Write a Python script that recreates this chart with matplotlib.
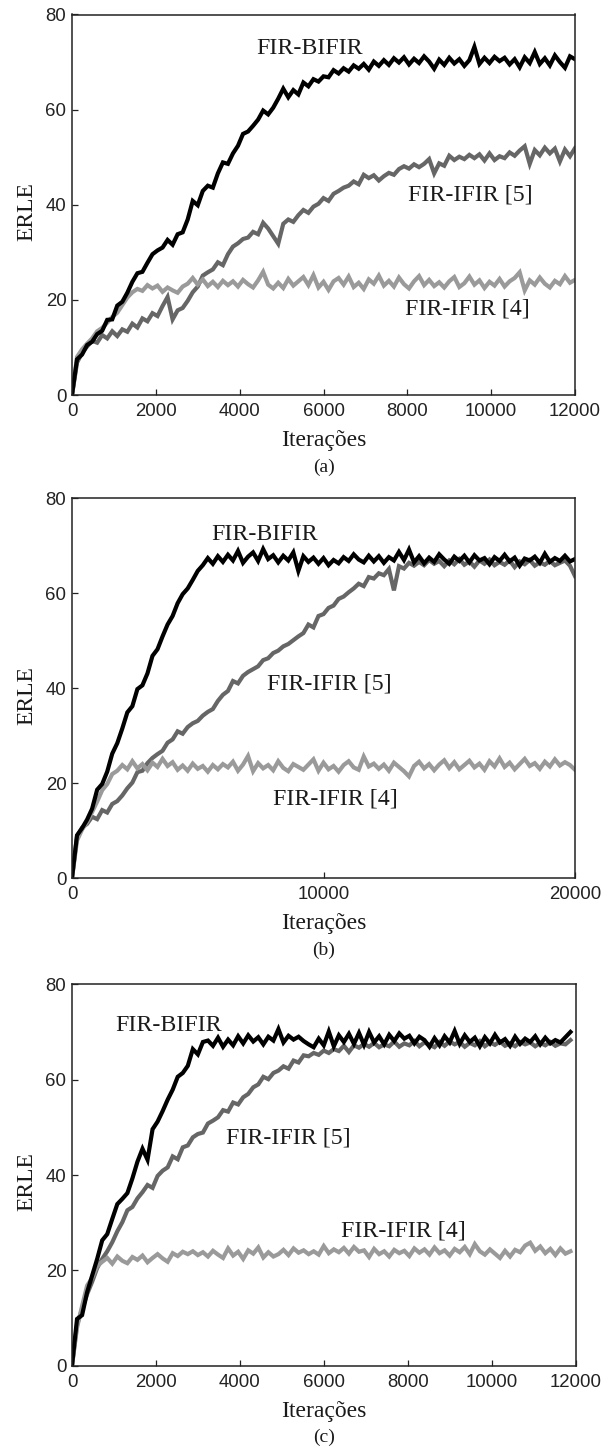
import numpy as np
import matplotlib
matplotlib.use("Agg")
import matplotlib.pyplot as plt

SERIF = "Liberation Serif"
SANS = "Liberation Sans"

BLACK = "#000000"
DARK = "#666666"
LIGHT = "#9a9a9a"

# ---- panel (a): iterations 0..12000, step 120 ----
x_a = np.arange(0, 12001, 120)
bifir_a = [
    0, 7.5, 8.5, 10.5, 11.2, 12.8, 13.5, 15.8, 15.9, 18.8,
    19.6, 21.5, 23.8, 25.6, 25.9, 27.8, 29.6, 30.4, 31.0, 32.6,
    31.6, 33.8, 34.2, 36.9, 40.8, 39.9, 42.9, 44.0, 43.6, 46.6,
    48.9, 48.6, 50.8, 52.4, 54.9, 55.4, 56.6, 57.9, 59.8, 59.0,
    60.4, 62.3, 64.4, 62.6, 64.1, 63.2, 65.7, 64.9, 66.4, 65.9,
    67.0, 66.8, 68.3, 67.6, 68.7, 68.0, 69.3, 68.6, 69.6, 68.4,
    70.1, 69.2, 70.4, 69.4, 70.8, 69.9, 71.0, 69.5, 70.7, 69.8,
    71.2, 70.1, 68.6, 70.5, 69.4, 70.9, 69.7, 70.6, 69.2, 70.4,
    73.2, 69.6, 70.9, 69.8, 71.1, 70.2, 70.9, 69.5, 70.6, 68.9,
    71.0, 69.8, 72.1, 69.6, 70.8, 69.3, 71.4, 70.0, 68.8, 71.2,
    70.6,
]
ifir5_a = [
    0, 6.8, 8.9, 10.2, 11.4, 11.0, 12.6, 11.9, 13.4, 12.4,
    13.8, 13.3, 15.0, 14.2, 16.1, 15.5, 17.2, 16.6, 18.7, 20.6,
    15.9, 17.8, 18.3, 19.8, 21.6, 22.8, 25.1, 25.8, 26.4, 27.9,
    27.3, 29.6, 31.2, 31.9, 32.8, 33.1, 34.3, 33.8, 36.2, 35.0,
    33.4, 31.8, 36.0, 36.9, 36.4, 37.8, 38.9, 38.3, 39.6, 40.2,
    41.4, 40.8, 42.3, 42.9, 43.6, 44.0, 44.9, 44.3, 46.3, 45.6,
    46.2, 45.1, 46.0, 46.7, 46.3, 47.5, 48.1, 47.6, 48.5, 47.9,
    48.6, 49.6, 46.6, 48.7, 48.2, 50.3, 49.4, 50.1, 49.6, 50.5,
    49.8, 50.6, 49.3, 50.8, 49.4, 50.2, 49.8, 51.0, 50.3, 51.4,
    52.3, 48.6, 51.5, 50.4, 52.0, 50.8, 51.8, 49.1, 51.6, 50.2,
    51.9,
]
ifir4_a = [
    0, 8.0, 9.6, 10.8, 11.9, 13.4, 14.1, 15.2, 16.4, 17.3,
    18.9, 20.5, 21.6, 22.3, 21.9, 23.1, 22.4, 23.0, 21.7, 22.6,
    22.0, 21.5, 22.8, 23.4, 24.6, 23.2, 24.3, 22.9, 23.8, 22.7,
    24.0, 23.1, 23.9, 22.8, 24.2, 23.3, 22.6, 24.1, 25.9, 23.2,
    22.4, 23.6, 22.5, 24.4, 23.0, 23.9, 24.8, 23.1, 25.2, 22.6,
    23.8, 22.1, 23.9, 24.6, 23.2, 24.9, 22.7, 23.6, 22.3, 24.3,
    23.4, 25.1, 23.0, 24.0, 22.8, 24.7, 23.3, 22.4, 23.9, 25.0,
    23.1, 24.2, 22.9, 23.7, 22.6, 23.9, 24.8, 22.7, 23.5, 24.9,
    23.2, 24.1, 22.5, 23.8, 23.0, 24.4, 22.8, 23.9, 24.6, 25.8,
    22.0, 24.1, 23.2, 24.7, 23.4, 22.6, 24.0, 23.3, 25.0, 23.6,
    24.2,
]

# ---- panel (b): iterations 0..20000, step 200 ----
x_b = np.arange(0, 20001, 200)
bifir_b = [
    0, 9.0, 10.5, 12.3, 14.6, 18.6, 19.8, 22.4, 26.2, 28.4,
    31.5, 34.9, 36.2, 39.8, 40.6, 43.1, 46.8, 48.2, 50.9, 53.4,
    55.2, 57.9, 59.8, 61.0, 62.8, 64.7, 65.9, 67.4, 66.2, 67.8,
    66.6, 68.1, 66.9, 68.9, 66.4, 67.7, 68.6, 66.8, 69.3, 67.2,
    68.0, 66.5, 67.9, 66.9, 68.6, 64.7, 67.8, 66.6, 67.5, 66.2,
    67.4, 65.9, 67.0, 66.3, 67.6, 66.8, 68.2, 67.1, 66.5, 67.9,
    66.7, 67.8, 66.4, 67.6, 66.9, 68.7, 67.0, 69.2, 66.5, 67.8,
    66.3, 67.5, 66.6, 68.2, 67.1, 66.2, 67.7, 66.8, 67.9, 66.5,
    68.0, 66.9, 67.4, 66.1, 67.6, 66.8, 68.1, 66.7, 67.5, 65.8,
    67.3, 66.9, 67.7, 66.4, 68.3, 66.6, 67.4, 66.8, 67.9, 66.7,
    67.2,
]
ifir5_b = [
    0, 8.8, 10.6, 11.4, 12.9, 12.4, 14.3, 13.8, 15.6, 16.2,
    17.4, 18.9, 20.1, 22.3, 22.6, 24.2, 25.3, 26.1, 26.8, 28.5,
    29.2, 30.9, 30.4, 31.8, 32.6, 33.1, 34.2, 35.0, 35.6, 37.3,
    38.6, 39.4, 41.5, 41.0, 42.6, 43.4, 44.0, 44.6, 45.9, 46.3,
    47.4, 47.9, 48.8, 49.3, 50.1, 50.9, 51.6, 53.4, 52.8, 55.2,
    55.6, 56.9, 57.4, 58.8, 59.3, 60.2, 61.0, 62.0, 61.5, 63.4,
    63.1, 64.2, 63.8, 65.1, 60.6, 65.7, 65.2, 66.4, 65.8, 66.6,
    65.9, 67.0, 66.2, 66.8, 65.7, 66.9, 66.1, 67.2, 66.0, 66.7,
    65.6, 66.9, 66.2, 67.1, 65.9, 66.6, 66.0, 66.9, 65.5, 66.7,
    66.1, 67.0, 65.8, 66.5, 66.0, 66.8, 65.9, 66.4, 66.9, 65.8,
    63.6,
]
ifir4_b = [
    0, 7.9, 10.2, 11.8, 13.9, 16.1, 18.5, 19.8, 21.9, 22.6,
    23.8, 22.9, 24.6, 23.1, 24.0, 22.7, 24.3, 23.4, 25.1, 23.6,
    24.4, 22.8, 23.7, 22.6, 24.1, 23.0, 23.6, 22.4, 23.8, 22.9,
    24.0, 23.3, 24.5, 22.6, 23.9, 25.7, 22.5, 24.2, 23.1, 23.8,
    22.7, 24.6, 23.2, 22.5, 24.0, 23.4, 22.8, 23.9, 25.0, 22.6,
    24.3, 22.9, 23.6, 22.4, 23.8, 24.6, 23.3, 22.8, 25.6, 23.5,
    24.1, 23.0, 23.9, 22.6, 24.3, 23.4, 22.5, 21.4, 23.6, 24.5,
    23.1, 24.0, 22.7, 23.9, 24.8, 23.2, 24.4, 22.9, 23.8, 24.7,
    23.3, 24.1, 22.8, 24.6, 23.5, 25.2, 23.4, 24.3, 22.9, 24.0,
    25.1, 23.6, 24.2, 23.0, 24.5, 23.5, 25.0, 23.7, 24.4, 23.8,
    22.8,
]

# ---- panel (c): iterations 0..11880, step 120 ----
x_c = np.arange(0, 11881, 120)
bifir_c = [
    0, 9.8, 10.6, 15.4, 18.9, 22.4, 26.3, 27.6, 30.8, 33.9,
    35.0, 36.2, 39.3, 42.8, 45.5, 43.2, 49.6, 51.2, 53.4, 55.8,
    57.9, 60.6, 61.4, 62.9, 66.4, 65.3, 67.9, 68.2, 67.1, 68.8,
    66.9, 68.4, 67.2, 69.1, 67.6, 69.3, 68.0, 68.9, 67.4, 69.0,
    68.2, 70.6, 67.8, 69.2, 68.4, 69.0, 68.1, 67.4, 66.8, 68.6,
    67.2, 70.1, 67.0, 69.3, 67.9, 69.6, 67.5, 69.8, 67.3, 70.0,
    67.8, 69.1, 67.4, 69.4, 68.1, 69.7, 68.6, 69.2, 67.6, 69.0,
    68.3, 66.9, 68.7, 67.2, 69.1, 67.8, 70.2, 67.5, 69.3, 67.9,
    68.8, 67.0, 68.9, 67.6, 69.4, 67.8, 68.5, 67.1, 69.0, 67.5,
    68.6, 67.9, 69.1, 67.4, 68.8, 67.6, 68.3, 67.8, 68.9, 70.0,
]
ifir5_c = [
    0, 8.6, 11.9, 15.0, 17.6, 20.5, 22.4, 24.0, 25.9, 28.2,
    30.1, 32.6, 33.3, 35.1, 36.4, 37.9, 37.3, 39.8, 40.9, 41.6,
    43.9, 43.3, 45.8, 46.2, 47.9, 48.6, 48.9, 50.8, 51.4, 52.1,
    53.6, 53.3, 55.2, 54.8, 56.3, 57.0, 58.4, 59.0, 60.6, 60.1,
    61.4, 61.9, 62.8, 62.3, 64.0, 63.6, 65.1, 64.9, 65.6, 65.2,
    66.1, 65.6, 66.4, 66.0, 67.1, 65.8, 67.2, 66.7, 67.5, 66.9,
    67.7, 66.8, 67.4, 67.0, 68.0, 66.9, 67.6, 67.2, 68.1, 67.0,
    67.8, 67.3, 66.8, 67.9, 67.1, 68.0, 67.4, 67.9, 66.9, 67.7,
    67.2, 68.1, 67.0, 67.8, 67.3, 68.0, 67.1, 67.6, 67.0, 67.9,
    67.4, 67.8, 67.0, 67.7, 67.2, 67.9, 67.1, 67.6, 67.4, 68.3,
]
ifir4_c = [
    0, 8.0, 12.5, 16.8, 18.4, 20.9, 21.8, 22.6, 21.4, 22.9,
    22.0, 21.5, 22.8, 22.2, 23.1, 21.7, 22.6, 23.4, 22.5, 21.8,
    23.6, 23.0, 23.9, 23.4, 24.0, 23.2, 23.8, 22.9, 24.1, 23.3,
    22.6, 24.6, 23.1, 23.9, 22.4, 24.2, 23.5, 24.8, 22.7, 23.8,
    22.9, 23.4, 24.3, 23.2, 24.6, 23.7, 24.2, 23.4, 24.0, 23.3,
    25.1, 23.6, 24.4, 23.8, 24.7, 23.5, 24.9, 23.9, 24.2, 22.8,
    24.5, 23.4, 24.0, 22.9, 24.3, 23.6, 24.1, 23.0, 24.6, 23.7,
    24.4, 23.3, 24.8, 23.6, 24.2, 23.1, 24.5, 23.8, 24.9, 23.4,
    25.5, 24.0, 23.3, 24.4, 23.5, 22.6, 24.1, 22.9, 24.3, 23.8,
    25.2, 25.8, 24.1, 25.0, 23.6, 24.5, 23.2, 24.6, 23.5, 24.0,
]

LABELS = ["FIR-BIFIR", "FIR-IFIR [5]", "FIR-IFIR [4]"]
PANEL_TAGS = ["(a)", "(b)", "(c)"]
X_MAX = [12000, 20000, 12000]
X_TICKS = [
    [0, 2000, 4000, 6000, 8000, 10000, 12000],
    [0, 10000, 20000],
    [0, 2000, 4000, 6000, 8000, 10000, 12000],
]
Y_TICKS = [0, 20, 40, 60, 80]

# label anchor positions (left/baseline) in data units, per panel
LABEL_POS = [
    [(4400, 71.6), (8020, 40.8), (7950, 17.0)],
    [(5520, 71.2), (7760, 39.8), (8010, 15.5)],
    [(1030, 70.1), (3670, 46.6), (6410, 27.1)],
]

panels = [
    (x_a, bifir_a, ifir5_a, ifir4_a),
    (x_b, bifir_b, ifir5_b, ifir4_b),
    (x_c, bifir_c, ifir5_c, ifir4_c),
]

W, H = 615, 1450
fig = plt.figure(figsize=(W / 100, H / 100), dpi=100)

# axes boxes in pixels: (left, top, right, bottom)
boxes = [(72, 14.5, 575, 395), (72, 498.3, 575, 878), (72, 984.3, 575.5, 1365.7)]

for k, (x, bifir, ifir5, ifir4) in enumerate(panels):
    l, t, r, b = boxes[k]
    ax = fig.add_axes([l / W, 1 - b / H, (r - l) / W, (b - t) / H])

    ax.plot(x, ifir5, color=DARK, lw=3.0, solid_joinstyle="miter")
    ax.plot(x, ifir4, color=LIGHT, lw=3.0, solid_joinstyle="miter")
    ax.plot(x, bifir, color=BLACK, lw=3.0, solid_joinstyle="miter")

    ax.set_xlim(0, X_MAX[k])
    ax.set_ylim(0, 80)
    ax.set_xticks(X_TICKS[k])
    ax.set_xticklabels([str(v) for v in X_TICKS[k]])
    ax.set_yticks(Y_TICKS)
    ax.tick_params(direction="in", length=4, width=0.9, labelsize=13.4,
                   colors="#222222", top=False, right=False)
    ax.tick_params(axis="x", pad=6)
    ax.tick_params(axis="y", pad=4)
    for lab in ax.get_xticklabels() + ax.get_yticklabels():
        lab.set_fontfamily(SANS)
    for sp in ax.spines.values():
        sp.set_linewidth(1.1)
        sp.set_color("#222222")

    for name, (tx, ty) in zip(LABELS, LABEL_POS[k]):
        ax.text(tx, ty, name, family=SERIF, fontsize=17.2, color="#1a1a1a",
                ha="left", va="baseline")

    cx = (l + r) / 2 / W
    fig.text(cx, 1 - (b + 45.5) / H, "Iterações", family=SERIF, fontsize=17,
             color="#1a1a1a", ha="center", va="center")
    fig.text(cx, 1 - (b + 72) / H, PANEL_TAGS[k], family=SERIF, fontsize=14,
             color="#1a1a1a", ha="center", va="center")
    fig.text(26.5 / W, 1 - ((t + b) / 2 + 7) / H, "ERLE", family=SERIF,
             fontsize=17, color="#1a1a1a", rotation=90,
             ha="center", va="center")

fig.savefig("out.png", dpi=100, facecolor="white")
